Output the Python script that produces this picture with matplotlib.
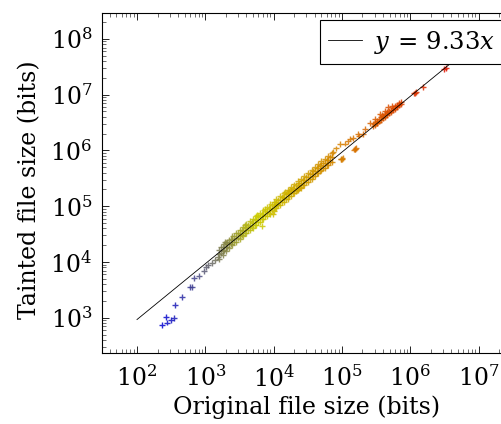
import numpy as np
import matplotlib
matplotlib.use("Agg")
from matplotlib import pyplot as plt
from matplotlib.colors import LinearSegmentedColormap
from matplotlib.ticker import FixedLocator, NullFormatter

plt.rcParams['font.family'] = ['DejaVu Serif']
plt.rcParams['mathtext.fontset'] = 'dejavuserif'

## DATA (file sizes in bits)
# small files, blue/gray end
small_orig = [234, 263, 278, 315, 352, 364, 460, 597, 632, 684, 800, 957, 1014, 1107, 1242, 1387, 1550]
small_taint = [741, 1042, 824, 921, 1012, 1706, 2344, 3532, 3622, 5117, 5623, 6998, 8240, 8836, 9720, 10864, 12445]

# main dense band: each original size has a low / mid / high tainted size
band_orig = [1600, 1800, 2000, 2200, 2500, 2800, 3200, 3600, 4000, 4500, 5000, 5600,
             6300, 7100, 8000, 9000, 10000, 11000, 12500, 14000, 16000, 18000, 20000,
             22500, 25000, 28000, 32000, 36000, 40000, 45000, 50000, 56000, 63000, 71000]
band_low = [11500, 13500, 15500, 17500, 20000, 23000, 26000, 29500, 33000, 37000, 41000, 46000,
            52000, 58000, 66000, 74000, 83000, 92000, 104000, 118000, 135000, 152000, 170000,
            192000, 214000, 240000, 276000, 312000, 348000, 393000, 438000, 492000, 556000, 630000]
band_mid = [14000, 16000, 18500, 21000, 24500, 27500, 31500, 35500, 40000, 45000, 50000, 56000,
            63000, 71000, 80000, 90000, 100000, 111000, 127000, 143000, 164000, 185000, 206000,
            233000, 260000, 292000, 335000, 378000, 422000, 477000, 532000, 597000, 675000, 764000]
band_high = [16500, 19000, 22000, 25000, 29000, 33000, 38000, 43000, 48000, 54000, 60000, 67000,
             76000, 86000, 96000, 108000, 120000, 133000, 152000, 171000, 196000, 222000, 246000,
             279000, 310000, 350000, 400000, 452000, 505000, 570000, 636000, 714000, 806000, 912000]

# in-between rows of the band
band2_orig = [1700, 1900, 2100, 2350, 2650, 3000, 3400, 3800, 4250, 4750, 5300, 5950, 6700,
              7550, 8500, 9500, 10500, 11700, 13200, 15000, 17000, 19000, 21200, 23700, 26500,
              30000, 34000, 38000, 42500, 47500, 53000, 59500, 67000]
band2_low = [14800, 16600, 18400, 20700, 23300, 26500, 30000, 33500, 37500, 42000, 47000, 52500,
             59500, 67000, 75500, 84500, 93500, 104000, 118000, 134000, 152000, 170000, 190000,
             213000, 239000, 271000, 308000, 345000, 387000, 433000, 484000, 545000, 615000]
band2_high = [18500, 20800, 23000, 25800, 29200, 33000, 37500, 42000, 47000, 52500, 58500, 66000,
              74000, 83500, 94000, 105000, 117000, 130000, 147000, 167000, 190000, 213000, 238000,
              266000, 298000, 339000, 385000, 431000, 483000, 541000, 605000, 680000, 767000]

# scattered files off the band
outl_orig = [1941, 3221, 3811, 6693, 5662, 9910, 7480, 11090, 13870, 16410, 14690, 17380, 21780,
             24380, 74800, 82000, 93700, 111000, 124100, 131000, 146900, 172000, 179800, 205600,
             218000, 257600, 305500, 323300, 361400, 382600, 427600, 452800, 477800, 535900, 634300]
outl_taint = [23070, 30340, 47100, 43950, 69000, 71900, 91000, 111700, 146600, 173000, 180000,
              198600, 198600, 221300, 933000, 1087000, 1318000, 1333000, 1449000, 1638000, 1687000,
              1995000, 1854000, 1986000, 2455000, 3073000, 3681000, 3073000, 4519000, 4345000,
              5176000, 4834000, 5931000, 6180000, 6368000]

# two little clusters under the fit line
under_orig = [96000, 99000, 102000, 98000, 150000, 155000, 160000, 158000]
under_taint = [690000, 710000, 730000, 700000, 1040000, 1070000, 1100000, 1060000]

# large files, red end
big_orig = [290000, 310000, 330000, 350000, 375000, 400000, 430000, 460000, 490000, 520000,
            560000, 600000, 640000, 690000, 740000,
            290000, 310000, 330000, 350000, 375000, 400000, 430000, 460000, 490000, 520000,
            560000, 600000, 640000, 690000, 740000,
            1150000, 1180000, 1210000, 1556000, 3150000, 3300000]
big_taint = [2700000, 2900000, 3100000, 3300000, 3500000, 3750000, 4000000, 4300000, 4600000,
             4900000, 5250000, 5600000, 6000000, 6450000, 6900000,
             3000000, 3200000, 3400000, 3600000, 3900000, 4150000, 4450000, 4750000, 5100000,
             5400000, 5800000, 6200000, 6600000, 7100000, 7500000,
             10500000, 10800000, 11100000, 13900000, 28500000, 29800000]

fit_slope = 9.33
fit_range = [100, 1e7]

x_major = [1e2, 1e3, 1e4, 1e5, 1e6, 1e7]
y_major = [1e3, 1e4, 1e5, 1e6, 1e7, 1e8]

## PLOT
orig = np.array(small_orig + band_orig * 3 + band2_orig * 2 + outl_orig + under_orig + big_orig, dtype=float)
taint = np.array(small_taint + band_low + band_mid + band_high + band2_low + band2_high
                 + outl_taint + under_taint + big_taint, dtype=float)

hot = LinearSegmentedColormap.from_list(
    'hot_pgf', [(0, 0, 0.82), (0.8, 0.8, 0), (0.84, 0.46, 0), (0.88, 0.08, 0)])

fig = plt.figure(figsize=(5.02, 4.24), dpi=100)
ax = fig.add_axes([102 / 502, 71 / 424, 417.5 / 502, 340 / 424])

ax.scatter(orig, taint, c=np.log10(orig), cmap=hot, marker='+', s=18, linewidths=1.0, alpha=0.85, zorder=2)
fx = np.array(fit_range)
ax.plot(fx, fit_slope * fx, color='black', lw=0.6, zorder=3, label=r'$y\,=\,9.33x$')

ax.set_xscale('log')
ax.set_yscale('log')
ax.set_xlim(10 ** 1.4875, 10 ** 7.6)
ax.set_ylim(10 ** 2.37, 10 ** 8.464)

# minor ticks 2..9 inside the visible range only
x_minor = [m * 10.0 ** e for e in range(1, 8) for m in range(2, 10)]
y_minor = [m * 10.0 ** e for e in range(2, 9) for m in range(2, 10)]
ax.xaxis.set_major_locator(FixedLocator(x_major))
ax.yaxis.set_major_locator(FixedLocator(y_major))
ax.xaxis.set_minor_locator(FixedLocator([v for v in x_minor if 10 ** 1.4875 < v < 10 ** 7.6]))
ax.yaxis.set_minor_locator(FixedLocator([v for v in y_minor if 10 ** 2.37 < v < 10 ** 8.464]))
ax.xaxis.set_minor_formatter(NullFormatter())
ax.yaxis.set_minor_formatter(NullFormatter())

ax.tick_params(which='both', direction='in', top=True, right=True, labelsize=17, width=0.6)
ax.tick_params(which='major', length=5)
ax.tick_params(which='minor', length=3, color='#555555')
ax.tick_params(axis='x', which='major', pad=9)
ax.tick_params(axis='y', which='major', pad=7)
for sp in ax.spines.values():
    sp.set_linewidth(0.8)

ax.set_xlabel('Original file size (bits)', fontsize=17)
ax.set_ylabel('Tainted file size (bits)', fontsize=17)
ax.xaxis.set_label_coords(0.489, -0.125)
ax.yaxis.set_label_coords(-0.145, 0.48)

leg = fig.legend(loc='upper right', bbox_to_anchor=(504 / 502, (424 - 20) / 424),
                 bbox_transform=fig.transFigure, fontsize=17.5, frameon=True, fancybox=False,
                 edgecolor='black', framealpha=1, handlelength=1.4, handletextpad=0.5,
                 borderpad=0.35, borderaxespad=0)
leg.get_frame().set_linewidth(0.8)

fig.savefig('out.png', dpi=100)
